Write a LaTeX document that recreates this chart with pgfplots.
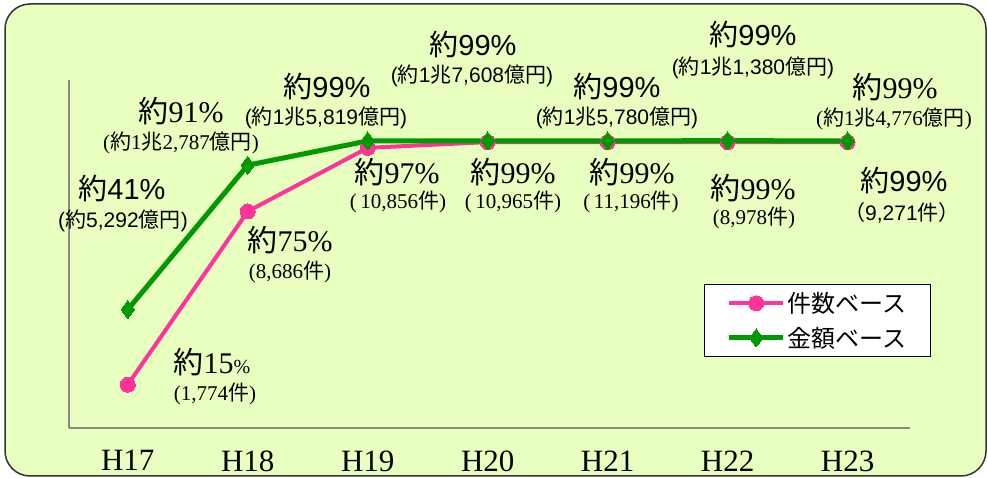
\documentclass[border=0pt]{standalone}
\usepackage{fontspec}
\setmainfont{Liberation Serif}
\newfontfamily\cjk{Noto Sans CJK JP}
\newfontfamily\sans{Liberation Sans}
\usepackage{pgfplots}
\pgfplotsset{compat=1.18}

\definecolor{bgc}{HTML}{E8FFC0}
\definecolor{pinkc}{HTML}{FF3399}
\definecolor{greenc}{HTML}{009900}
\definecolor{axc}{HTML}{888888}

% big labels: sans or serif digits
\newcommand\LbS[1]{{\fontsize{29}{29}\selectfont{\cjk 約}{\sans #1\%}}}
\newcommand\LbR[1]{{\fontsize{30}{30}\selectfont{\cjk 約}#1\%}}
% small labels
\newcommand\SmA[1]{{\fontsize{21}{21}\selectfont{\sans(}{\cjk 約}{\sans #1}{\cjk 億円}{\sans)}}}
\newcommand\SmB[1]{{\fontsize{21}{21}\selectfont{\sans(}{\cjk 約}{\sans 1}{\cjk 兆}{\sans #1}{\cjk 億円}{\sans)}}}
\newcommand\SmR[1]{{\fontsize{21}{21}\selectfont({\cjk 約}1{\cjk 兆}#1{\cjk 億円})}}
\newcommand\SmK[1]{{\fontsize{21}{21}\selectfont(\,#1{\cjk 件})}}

\begin{document}
\begin{tikzpicture}[x=1pt,y=1pt]
\useasboundingbox (0,0) rectangle (988,478);
\draw[fill=bgc, draw=black!80, line width=1.5pt, rounded corners=25pt] (5,2) rectangle (986,474);
\begin{axis}[
  at={(69pt,50pt)}, anchor=south west,
  width=841pt, height=348pt, scale only axis,
  xmin=-0.49, xmax=6.52, ymin=0, ymax=120.5,
  axis x line*=bottom, axis y line*=left,
  axis line style={axc, line width=2pt, -},
  xtick={0,...,6}, xticklabels={H17,H18,H19,H20,H21,H22,H23},
  ytick=\empty, major tick length=0pt,
  xticklabel style={font=\fontsize{31}{31}\selectfont, yshift=-19pt},
  clip=false,
  legend style={at={(1.025,0.414)}, anchor=north east, draw=black, fill=white,
    line width=1pt, font=\fontsize{24}{24}\selectfont\cjk, inner xsep=22pt, inner ysep=6pt,
    row sep=9pt},
  legend cell align=left,
  legend image code/.code={\draw[mark repeat=2,mark phase=2,#1] plot coordinates {(0pt,0pt) (27pt,0pt) (54pt,0pt)};},
]
\addplot[pinkc, line width=4pt, mark=*, mark size=7.5pt, mark options={line width=0pt}]
  coordinates {(0,15) (1,75) (2,97) (3,99) (4,99) (5,99) (6,99)};
\addplot[greenc, line width=5pt, mark=diamond*, mark size=9pt, mark options={line width=0pt}]
  coordinates {(0,41) (1,91) (2,99.4) (3,99.4) (4,99.4) (5,99.5) (6,99.4)};
\legend{件数ベース,金額ベース}
\end{axis}
% labels, placed in picture units (1pt = 1px of the reference, y up)
\begin{scope}[every node/.style={inner sep=0pt}]
\node at (122,478-189) {\LbS{41}};
\node at (123,478-221) {\SmA{5,292}};
\node at (181,478-111) {\LbR{91}};
\node at (181,478-143) {\SmR{2,787}};
\node at (327,478-87) {\LbS{99}};
\node at (326,478-118) {\SmB{5,819}};
\node at (473,478-45) {\LbS{99}};
\node at (472,478-76) {\SmB{7,608}};
\node at (617,478-87) {\LbS{99}};
\node at (617,478-118) {\SmB{5,780}};
\node at (753,478-35) {\LbS{99}};
\node at (753,478-68) {\SmB{1,380}};
\node at (895,478-87) {\LbR{99}};
\node at (894,478-119) {\SmR{4,776}};
\node at (212,478-362) {{\fontsize{30}{30}\selectfont{\cjk 約}15}{\fontsize{20}{20}\selectfont\%}};
\node at (215,478-394) {{\fontsize{21}{21}\selectfont(1,774{\cjk 件})}};
\node at (290,478-240) {\LbR{75}};
\node at (290,478-272) {{\fontsize{21}{21}\selectfont(8,686{\cjk 件})}};
\node at (397,478-172) {\LbR{97}};
\node at (398,478-202) {\SmK{10,856}};
\node at (513,478-172) {\LbR{99}};
\node at (513,478-202) {\SmK{10,965}};
\node at (632,478-172) {\LbR{99}};
\node at (631,478-202) {\SmK{11,196}};
\node at (753,478-188) {\LbR{99}};
\node at (754,478-218) {{\fontsize{21}{21}\selectfont(8,978{\cjk 件})}};
\node at (904,478-181) {\LbS{99}};
\node at (902,478-213) {{\fontsize{21}{21}\selectfont{\cjk （}{\sans 9,271}{\cjk 件）}}};
\end{scope}
\end{tikzpicture}
\end{document}
